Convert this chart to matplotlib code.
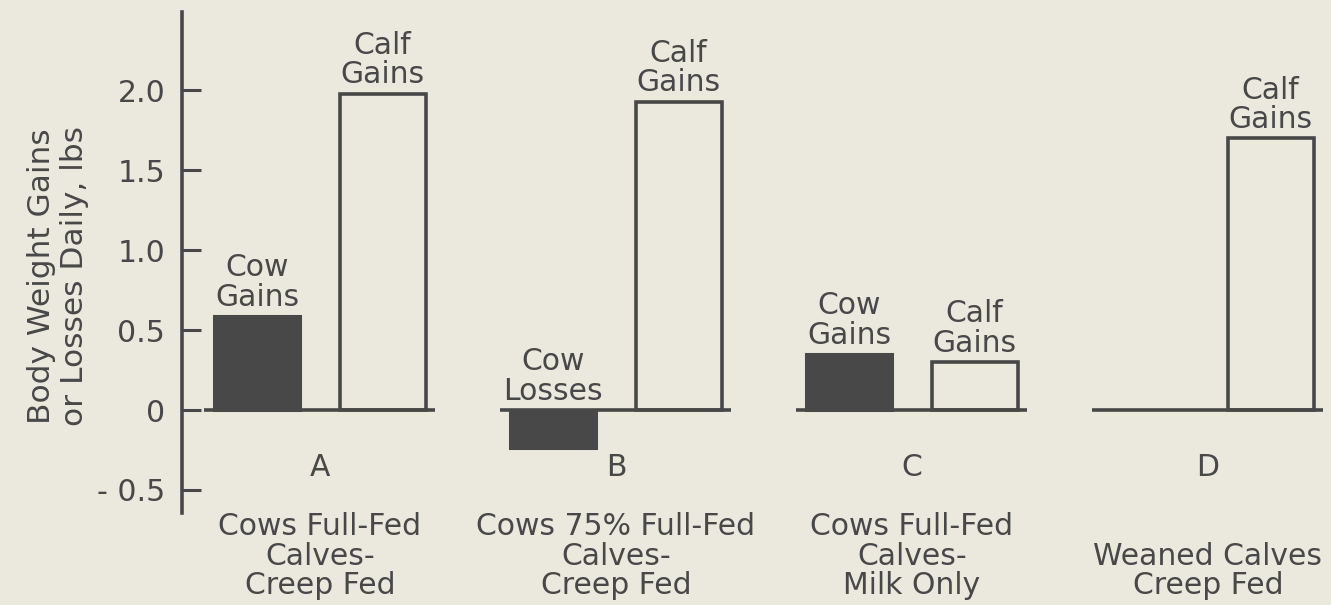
import matplotlib
matplotlib.use("Agg")
import matplotlib.pyplot as plt
import matplotlib.transforms as mtransforms
import numpy as np

# ---- data ----
groups = ["A", "B", "C", "D"]
descriptions = [
    "Cows Full-Fed\nCalves-\nCreep Fed",
    "Cows 75% Full-Fed\nCalves-\nCreep Fed",
    "Cows Full-Fed\nCalves-\nMilk Only",
    "Weaned Calves\nCreep Fed",
]
cow_values = [0.59, -0.24, 0.35, None]
calf_values = [1.98, 1.93, 0.30, 1.70]
cow_labels = ["Cow\nGains", "Cow\nLosses", "Cow\nGains", None]
calf_labels = ["Calf\nGains", "Calf\nGains", "Calf\nGains", "Calf\nGains"]
yticks = [-0.5, 0, 0.5, 1.0, 1.5, 2.0]
ytick_labels = ["- 0.5", "0", "0.5", "1.0", "1.5", "2.0"]
ylabel = "Body Weight Gains\nor Losses Daily, lbs"

# ---- style ----
BG = "#ebe9dd"
INK = "#484848"
FS = 21.5
LS = 1.02
plt.rcParams["font.family"] = ["DejaVu Sans"]

fig = plt.figure(figsize=(13.31, 6.05), dpi=100, facecolor=BG)
W, H = 1331, 605
ax = fig.add_axes([182 / W, 1 - 513 / H, 1 - 182 / W, (513 - 12) / H])
ax.set_facecolor(BG)

x = np.arange(len(groups))
width = 0.29
off = 0.212
half = 0.39

for i, g in enumerate(groups):
    ax.plot([x[i] - half, x[i] + half], [0, 0], color=INK, lw=2.6,
            solid_capstyle="butt", zorder=3)
    cv = cow_values[i]
    if cv is not None:
        ax.bar(x[i] - off, cv, width=width, color=INK, edgecolor=INK,
               linewidth=2.2, zorder=2)
        ly = max(cv, 0)
        ax.annotate(cow_labels[i], (x[i] - off, ly), xytext=(0, 3),
                    textcoords="offset points", ha="center", va="bottom",
                    fontsize=FS, color=INK, linespacing=LS)
    kv = calf_values[i]
    ax.bar(x[i] + off, kv, width=width, color=BG, edgecolor=INK,
           linewidth=2.6, zorder=2)
    ax.annotate(calf_labels[i], (x[i] + off, kv), xytext=(0, 3),
                textcoords="offset points", ha="center", va="bottom",
                fontsize=FS, color=INK, linespacing=LS)
    ax.text(x[i], -0.36, g, ha="center", va="center", fontsize=FS, color=INK)

trans = mtransforms.blended_transform_factory(ax.transData, fig.transFigure)
for i, d in enumerate(descriptions):
    ax.text(x[i], 1 - 600 / H, d, transform=trans, ha="center", va="bottom",
            fontsize=FS, color=INK, linespacing=LS, clip_on=False)

ax.set_xlim(-0.466, 3.416)
ax.set_ylim(-0.644, 2.49)
ax.set_yticks(yticks)
ax.set_yticklabels(ytick_labels)
ax.tick_params(axis="y", direction="in", length=14, width=2.2, colors=INK,
               labelsize=FS, pad=12)
ax.set_xticks([])
for s in ["top", "right", "bottom"]:
    ax.spines[s].set_visible(False)
ax.spines["left"].set_color(INK)
ax.spines["left"].set_linewidth(2.6)

fig.text(58 / W, 1 - 276 / H, ylabel, rotation=90, ha="center", va="center",
         fontsize=22.5, color=INK, linespacing=1.15)

fig.savefig("out.png", dpi=100, facecolor=BG)
